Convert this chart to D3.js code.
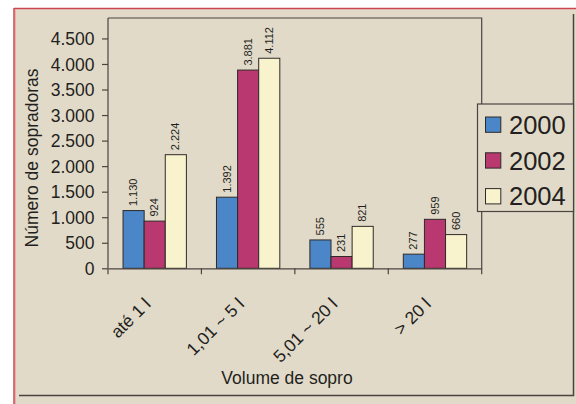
<!DOCTYPE html>
<html>
<head>
<meta charset="utf-8">
<script src="https://cdn.jsdelivr.net/npm/d3@7"></script>
<style>
html,body{margin:0;padding:0;background:#fff;}
svg{display:block;font-family:"Liberation Sans",Arial,sans-serif;}
</style>
</head>
<body>
<svg id="chart" width="576" height="404"></svg>
<script>
const categories = ["até 1 l", "1,01 ~ 5 l", "5,01 ~ 20 l", "> 20 l"];
const seriesNames = ["2000", "2002", "2004"];
const values2000 = [1130, 1392, 555, 277];
const values2002 = [924, 3881, 231, 959];
const values2004 = [2224, 4112, 821, 660];
const yTicks = [0, 500, 1000, 1500, 2000, 2500, 3000, 3500, 4000, 4500];
const colors = ["#4a86c8", "#b8386f", "#f8f2cd"];
const yTitle = "Número de sopradoras";
const xTitle = "Volume de sopro";

const series = [values2000, values2002, values2004];
const svg = d3.select("#chart");
const loc = d3.formatLocale({decimal: ",", thousands: ".", grouping: [3], currency: ["", ""]});
const fmt = loc.format(",d");

// panel
svg.append("rect").attr("x", 14).attr("y", 8).attr("width", 562).attr("height", 396).attr("fill", "#e2dac9");
svg.append("line").attr("x1", 14).attr("x2", 576).attr("y1", 8.5).attr("y2", 8.5).attr("stroke", "#cc4450").attr("stroke-width", 1.5);
svg.append("line").attr("x1", 14).attr("x2", 14).attr("y1", 8).attr("y2", 404).attr("stroke", "#cc4450").attr("stroke-width", 1.5);
svg.append("line").attr("x1", 15.5).attr("x2", 15.5).attr("y1", 9).attr("y2", 404).attr("stroke", "#eab0a8").attr("stroke-width", 1);
// inner dark frame (right & bottom)
svg.append("path").attr("d", "M573.5,14 V395.5 H19").attr("fill", "none").attr("stroke", "#4a4440").attr("stroke-width", 1.5);

const pL = 108, pR = 481.7, pT = 18, pB = 268.3;
const x = d3.scaleBand().domain(categories).range([pL, pR]).paddingInner(0).paddingOuter(0);
const y = d3.scaleLinear().domain([0, 4900]).range([pB, pT]);
const bw = x.bandwidth();
const barW = bw * 0.226;
const off = (bw - 3 * barW) / 2;

// frame top/right
svg.append("path").attr("d", `M${pL},${pT} H${pR} V${pB}`).attr("fill", "none").attr("stroke", "#4a4440").attr("stroke-width", 1.2);

// bars
series.forEach((vals, si) => {
  svg.append("g").selectAll("rect").data(vals).join("rect")
    .attr("x", (d, i) => x(categories[i]) + off + si * barW)
    .attr("y", d => y(d))
    .attr("width", barW)
    .attr("height", d => y(0) - y(d))
    .attr("fill", colors[si])
    .attr("stroke", "#2e2a28")
    .attr("stroke-width", 1);
  svg.append("g").selectAll("text").data(vals).join("text")
    .attr("transform", (d, i) => `translate(${x(categories[i]) + off + si * barW + barW / 2 + 3.6},${y(d) - 4.5}) rotate(-90)`)
    .attr("text-anchor", "start")
    .attr("font-size", 11)
    .attr("fill", "#231f20")
    .text(d => fmt(d));
});

// y axis
const yAxis = d3.axisLeft(y).tickValues(yTicks).tickFormat(fmt).tickSize(6).tickSizeOuter(0);
const gy = svg.append("g").attr("transform", `translate(${pL},0)`).call(yAxis);
gy.select(".domain").attr("stroke", "#4a4440").attr("stroke-width", 1.2).attr("d", `M0,${pT}V${pB}`);
gy.selectAll(".tick line").attr("stroke", "#4a4440").attr("stroke-width", 1.2);
gy.selectAll(".tick text").attr("font-size", 17.5).attr("fill", "#231f20").attr("x", -13.5).attr("dy", "0.35em").attr("font-family", "Liberation Sans, Arial, sans-serif");

// x axis
const xAxis = d3.axisBottom(x).tickSize(0).tickSizeOuter(0);
const gx = svg.append("g").attr("transform", `translate(0,${pB})`).call(xAxis);
gx.select(".domain").attr("stroke", "#4a4440").attr("stroke-width", 1.2);
const bounds = [pL].concat(categories.map(c => x(c) + bw));
gx.selectAll("line.bound").data(bounds).join("line").attr("class", "bound")
  .attr("x1", d => d).attr("x2", d => d).attr("y1", 0).attr("y2", 6)
  .attr("stroke", "#4a4440").attr("stroke-width", 1.2);
gx.selectAll(".tick text")
  .attr("font-size", 17.5).attr("fill", "#231f20").attr("font-family", "Liberation Sans, Arial, sans-serif")
  .attr("text-anchor", "end").attr("y", 0).attr("dy", 0)
  .attr("transform", "translate(-3,37) rotate(-45)");

// axis titles
svg.append("text").attr("transform", `translate(38,158) rotate(-90)`).attr("text-anchor", "middle")
  .attr("font-size", 17.5).attr("fill", "#231f20").text(yTitle);
svg.append("text").attr("x", 287).attr("y", 384).attr("text-anchor", "middle")
  .attr("font-size", 17.5).attr("fill", "#231f20").text(xTitle);

// legend
const lg = svg.append("g");
lg.append("rect").attr("x", 477.5).attr("y", 104).attr("width", 96).attr("height", 107.5)
  .attr("fill", "#e2dac9").attr("stroke", "#4a4440").attr("stroke-width", 1.2);
seriesNames.forEach((s, i) => {
  const cy = 124.7 + i * 35.8;
  lg.append("rect").attr("x", 485.5).attr("y", cy - 7.7).attr("width", 15.3).attr("height", 15.3)
    .attr("fill", colors[i]).attr("stroke", "#2e2a28").attr("stroke-width", 1);
  lg.append("text").attr("x", 509).attr("y", cy + 9).attr("font-size", 25.5).attr("fill", "#231f20").text(s);
});
</script>
</body>
</html>
